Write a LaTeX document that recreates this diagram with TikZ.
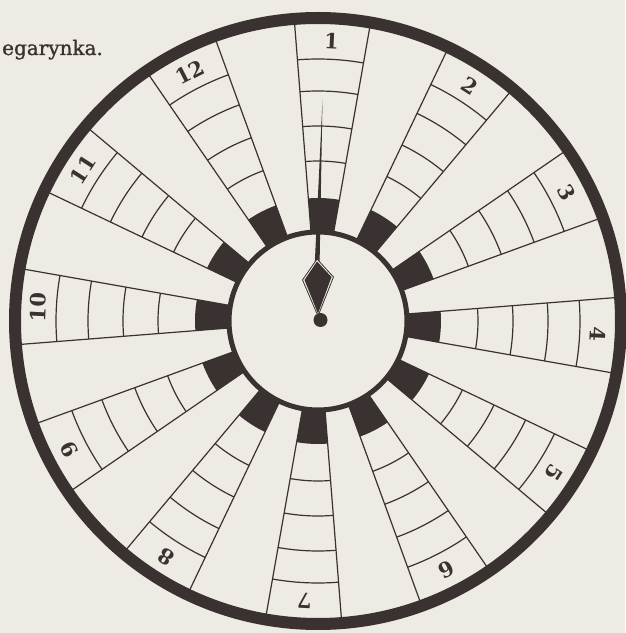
\documentclass[tikz,border=0pt]{standalone}
\usepackage{fontspec}
\setmainfont{DejaVu Serif}
\newfontfamily\capfont[FakeBold=1.2]{DejaVu Serif}
\usetikzlibrary{calc}
\definecolor{bg}{RGB}{237,235,227}
\definecolor{ink}{RGB}{58,50,48}
\begin{document}
\begin{tikzpicture}[x=1pt,y=1pt,
  thinline/.style={draw=ink, line width=1.2pt},
  numlabel/.style={font=\fontsize{21}{21}\selectfont\bfseries, text=ink, inner sep=0pt},
  caption/.style={font=\capfont\fontsize{20}{24}\selectfont, text=ink, inner sep=0pt, anchor=base west},
  ring/.style={draw=ink, line width=12pt},
  hub/.style={draw=ink, line width=5pt, fill=bg},
]
\fill[bg] (0,0) rectangle (625,633);
\useasboundingbox (0,0) rectangle (625,633);
\coordinate (C) at (318,312);
\foreach \k in {1,...,12}{
  \pgfmathsetmacro{\hA}{90-30*(\k-1)}
  \pgfmathsetmacro{\sA}{\hA-10}
  \pgfmathsetmacro{\sB}{\hA+4.5}
  \pgfmathsetmacro{\sM}{\hA-2.75}
  \fill[ink] ($(C)+(\sA:89)$) arc[start angle=\sA, end angle=\sB, radius=89]
     -- ($(C)+(\sB:123)$) arc[start angle=\sB, end angle=\sA, radius=123] -- cycle;
  \draw[thinline] ($(C)+(\sA:89)$) -- ($(C)+(\sA:298)$);
  \draw[thinline] ($(C)+(\sB:89)$) -- ($(C)+(\sB:298)$);
  \foreach \r in {160,195,230,262}{
    \draw[thinline] ($(C)+(\sA:\r)$) arc[start angle=\sA, end angle=\sB, radius=\r];
  }
  \node[numlabel, rotate=\sM-90] (n\k) at ($(C)+(\sM:280)$) {\k};
}
\draw[hub] (C) circle[radius=89];
\draw[ring] (C) circle[radius=303];
% hand
\fill[ink] (314.8,370) -- (322.5,533) -- (319.6,370) -- cycle;
\draw[ink, line width=0.8pt, fill=bg] (317,374) -- (302.5,353) -- (318,317) -- (333.5,356) -- cycle;
\fill[ink] (317,371.5) -- (304.5,353) -- (318,319.5) -- (331.5,356) -- cycle;
\fill[ink] (320.5,313) circle[radius=7];
\node[caption] (cap) at (2,578) {egarynka.};
\end{tikzpicture}
\end{document}
